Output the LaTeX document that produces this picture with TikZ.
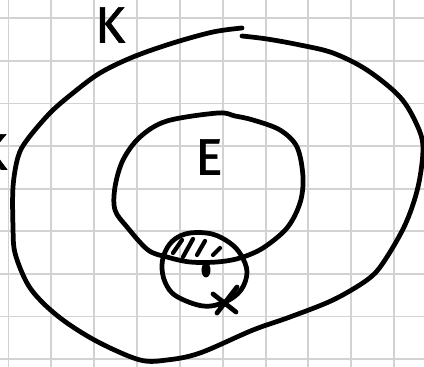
\documentclass[tikz,border=0pt]{standalone}
\usepackage{fontspec}
\newfontfamily\hand[FakeBold=1.2]{Fira Sans}
\definecolor{gitter}{HTML}{D2D2D2}
\definecolor{tinte}{HTML}{000000}
\tikzset{
  gitterlinie/.style={gitter,line width=1.1pt},
  kurve/.style={tinte,line width=2.7pt,line cap=round,line join=round},
  schraff/.style={tinte,line width=2.4pt,line cap=round},
  beschr/.style={tinte,inner sep=0pt,font=\hand\fontsize{29}{29}\selectfont},
}
\begin{document}
\begin{tikzpicture}[x=0.02cm,y=-0.02cm]
  \useasboundingbox (0,0) rectangle (424,367);
  \fill[white] (0,0) rectangle (424,367);
  \foreach \i in {0,...,9} \draw[gitterlinie] ({8.5+42.85*\i},0) -- ++(0,367);
  \foreach \j in {0,...,8} \draw[gitterlinie] (0,{18.3+42.6*\j}) -- ++(424,0);
  \draw[kurve] plot[smooth,tension=0.55] coordinates {(242,36) (267,39) (300,45) (333,53) (367,70) (400,97) (417,125) (423,148) (418,187) (405,225) (383,263) (367,280) (333,300) (290,317) (253,330) (200,353) (167,360) (140,360) (100,343) (67,323) (43,303) (27,283) (15,253) (13,227) (13,187) (18,157) (27,140) (50,113) (73,93) (100,73) (133,57) (173,43) (213,32) (242,28)};
  \draw[kurve] plot[smooth cycle,tension=0.55] coordinates {(218,113) (167,121) (140,137) (123,160) (115,187) (115,210) (127,227) (148,250) (167,257) (190,262) (217,262) (240,258) (263,248) (287,228) (300,203) (303,177) (297,147) (280,130) (253,120) (235,116)};
  \draw[kurve] plot[smooth cycle,tension=0.6] coordinates {(190,233) (175,239) (166,250) (162,265) (165,282) (176,296) (203,306) (225,302) (241,290) (247,272) (241,255) (230,243) (212,234)};
  \draw[schraff] (173,253) -- (182,240);
  \draw[schraff] (183,257) -- (193,239);
  \draw[schraff] (197,255) -- (205,241);
  \draw[schraff] (213,255) -- (220,248);
  \fill[tinte] (206,270) ellipse [x radius=4.5,y radius=7.5];
  \draw[kurve] (213,294) -- (236,312);
  \draw[kurve] (237,287) -- (217,313);
  \node[beschr] (kOben) at (110,25) {K};
  \node[beschr] (kLinks) at (-8,152) {K};
  \node[beschr] (e) at (209,157) {E};
\end{tikzpicture}
\end{document}
